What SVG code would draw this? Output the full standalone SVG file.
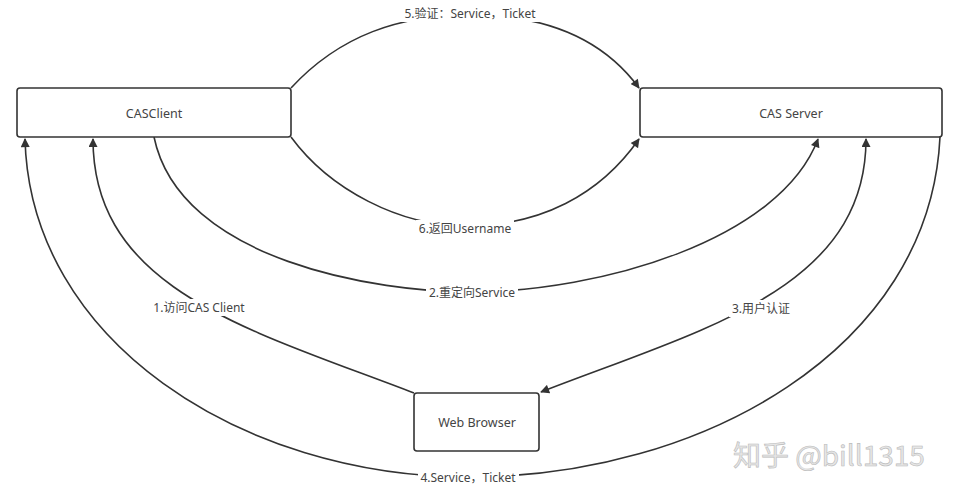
<svg xmlns="http://www.w3.org/2000/svg" width="956" height="495" viewBox="0 0 956 495">
<style>
.box{fill:#fff;stroke:#333;stroke-width:1.6}
.nt{font-family:"Noto Sans","Noto Sans CJK SC",sans-serif;font-size:12.5px;fill:#444;text-anchor:middle}
.ln{fill:none;stroke:#333;stroke-width:1.6}
.bg{fill:#fff}
.lb{font-family:"Noto Sans","Noto Sans CJK SC",sans-serif;font-size:12px;fill:#444;text-anchor:middle}
.wm{font-family:"Noto Sans CJK SC","Noto Sans",sans-serif;font-size:28px;fill:#e6e6e6;stroke:#bbb;stroke-width:0.6}
</style>
<defs>
<marker id="ah" viewBox="0 0 10 10" refX="9" refY="5" markerWidth="10" markerHeight="9" markerUnits="userSpaceOnUse" orient="auto-start-reverse">
<path d="M0,0 L10,5 L0,10 z" fill="#333"/>
</marker>
</defs>
<g id="connectors">
<path class="ln" d="M414,393 C250,330 93,290 93,139" marker-end="url(#ah)"/>
<path class="ln" d="M154,137 C180,262 380,292 470,292 C600,292 780,240 818,139" marker-end="url(#ah)"/>
<path class="ln" d="M541,392 C700,330 866,290 866,139" marker-start="url(#ah)" marker-end="url(#ah)"/>
<path class="ln" d="M940,137 C930,350 700,477 470,477 C240,477 30,340 25,139" marker-end="url(#ah)"/>
<path class="ln" d="M291,88 C340,35 400,15 470,15 C540,15 600,35 639,88" marker-end="url(#ah)"/>
<path class="ln" d="M291,137 C330,190 400,226 466,226 C540,226 600,195 639,139" marker-end="url(#ah)"/>
<rect class="bg" x="400" y="5" width="140" height="17"/>
<rect class="bg" x="416" y="220" width="98" height="17"/>
<rect class="bg" x="426" y="284" width="92" height="17"/>
<rect class="bg" x="150" y="299" width="99" height="17"/>
<rect class="bg" x="729" y="300" width="64" height="17"/>
<rect class="bg" x="418" y="469" width="101" height="17"/>
<text class="lb" x="470" y="18">5.验证：Service，Ticket</text>
<text class="lb" x="465" y="233">6.返回Username</text>
<text class="lb" x="472" y="297">2.重定向Service</text>
<text class="lb" x="199" y="312">1.访问CAS Client</text>
<text class="lb" x="761" y="313">3.用户认证</text>
<text class="lb" x="468" y="482">4.Service，Ticket</text>
</g>
<g id="casclient">
<rect class="box" x="17" y="88" width="274" height="49" rx="3"/>
<text class="nt" x="154" y="118">CASClient</text>
</g>
<g id="casserver">
<rect class="box" x="640" y="88" width="302" height="49" rx="3"/>
<text class="nt" x="791" y="118">CAS Server</text>
</g>
<g id="webbrowser">
<rect class="box" x="414" y="393" width="125" height="58" rx="3"/>
<text class="nt" x="477" y="427">Web Browser</text>
</g>
<text class="wm" x="733" y="466">知乎 @bill1315</text>
</svg>
